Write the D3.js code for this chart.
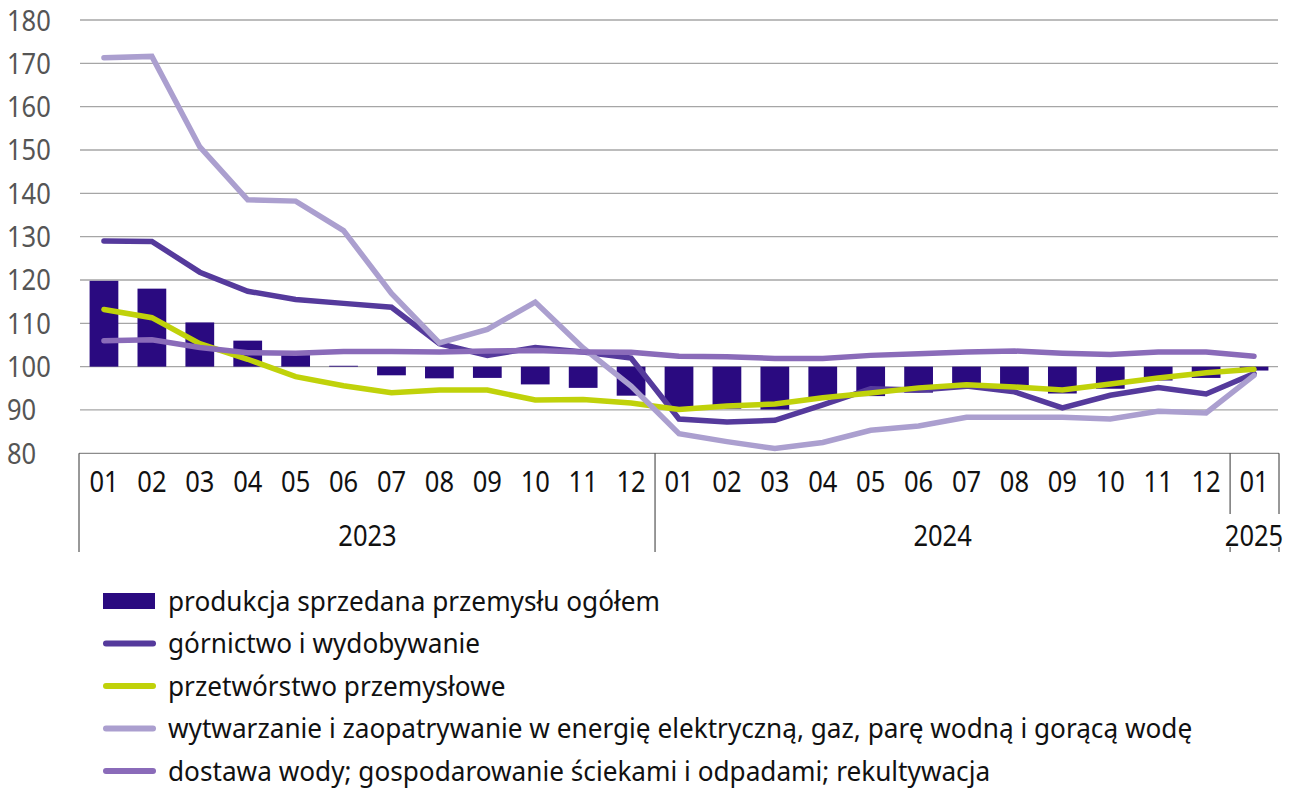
<!DOCTYPE html>
<html>
<head>
<meta charset="utf-8">
<script src="https://cdn.jsdelivr.net/npm/d3@7"></script>
<style>
  body { margin: 0; background: #fff; }
  svg { display: block; font-family: "Noto Sans", sans-serif; }
</style>
</head>
<body>
<script>
// months and years on the category axis
var months = ["01","02","03","04","05","06","07","08","09","10","11","12",
              "01","02","03","04","05","06","07","08","09","10","11","12","01"];
var years = [
  { label: "2023", from: 0, to: 12 },
  { label: "2024", from: 12, to: 24 },
  { label: "2025", from: 24, to: 25 }
];
var yTicks = [80, 90, 100, 110, 120, 130, 140, 150, 160, 170, 180];

// produkcja sprzedana przemysłu ogółem (bars, from 100)
var ogolem = [119.8, 118.0, 110.2, 106.0, 102.8, 100.2, 98.0, 97.3, 97.4, 95.9, 95.1, 93.3,
              90.2, 90.3, 90.1, 92.6, 93.2, 94.0, 96.0, 95.7, 93.8, 94.9, 96.8, 97.4, 99.1];
var gornictwo = [129.0, 128.9, 121.8, 117.4, 115.5, 114.6, 113.7, 105.3, 102.6, 104.4, 103.4, 102.0,
                 87.9, 87.2, 87.6, 91.2, 94.9, 94.6, 95.5, 94.2, 90.5, 93.4, 95.2, 93.7, 98.4];
var przetworstwo = [113.2, 111.3, 105.3, 101.7, 97.7, 95.6, 94.0, 94.6, 94.6, 92.3, 92.4, 91.6,
                    90.1, 90.9, 91.4, 92.8, 93.9, 95.1, 95.8, 95.3, 94.6, 96.0, 97.4, 98.6, 99.4];
var energia = [171.3, 171.6, 150.7, 138.5, 138.2, 131.4, 116.9, 105.5, 108.6, 114.9, 104.3, 95.5,
               84.5, 82.7, 81.1, 82.5, 85.3, 86.3, 88.3, 88.3, 88.3, 87.9, 89.7, 89.3, 98.0];
var dostawa = [106.0, 106.2, 104.4, 103.2, 103.1, 103.5, 103.5, 103.4, 103.6, 103.7, 103.4, 103.3,
               102.4, 102.3, 101.9, 101.9, 102.6, 103.0, 103.4, 103.6, 103.1, 102.8, 103.4, 103.4, 102.4];

var seriesNames = [
  "produkcja sprzedana przemysłu ogółem",
  "górnictwo i wydobywanie",
  "przetwórstwo przemysłowe",
  "wytwarzanie i zaopatrywanie w energię elektryczną, gaz, parę wodną i gorącą wodę",
  "dostawa wody; gospodarowanie ściekami i odpadami; rekultywacja"
];

var width = 1296, height = 789;
var plotLeft = 80, plotRight = 1278, plotTop = 20, plotBottom = 453.3;

var svg = d3.select("body").append("svg")
    .attr("width", width)
    .attr("height", height);

var x = d3.scaleBand()
    .domain(d3.range(months.length))
    .range([plotLeft, plotRight])
    .paddingInner(0.4)
    .paddingOuter(0.2);

var y = d3.scaleLinear()
    .domain([80, 180])
    .range([plotBottom, plotTop]);

var cx = function (i) { return x(i) + x.bandwidth() / 2; };
var step = x.step();

// narrow numerals (the original uses a condensed face)
function narrow(fx, fy) {
  return function (d, i) {
    return "translate(" + fx(d, i) + "," + fy(d, i) + ") scale(0.88,1)";
  };
}

// gridlines
svg.append("g")
    .selectAll("line")
    .data(yTicks.slice(1))
    .enter().append("line")
    .attr("x1", plotLeft).attr("x2", plotRight)
    .attr("y1", function (d) { return y(d); })
    .attr("y2", function (d) { return y(d); })
    .attr("stroke", "#a6a6a6")
    .attr("stroke-width", 1.3);

// y labels
svg.append("g")
    .selectAll("text")
    .data(yTicks)
    .enter().append("text")
    .attr("transform", narrow(function () { return 7; },
                              function (d) { return y(d) + 10.5; }))
    .attr("fill", "#555")
    .style("font-size", "29px")
    .text(function (d) { return d; });

// bars from 100
svg.append("g")
    .selectAll("rect")
    .data(ogolem)
    .enter().append("rect")
    .attr("x", function (d, i) { return x(i); })
    .attr("width", x.bandwidth())
    .attr("y", function (d) { return y(Math.max(d, 100)); })
    .attr("height", function (d) { return Math.abs(y(d) - y(100)); })
    .attr("fill", "#2a0a80");

// lines
var lines = [
  { values: gornictwo, color: "#553a9c" },
  { values: przetworstwo, color: "#c0d20a" },
  { values: energia, color: "#ab9fcf" },
  { values: dostawa, color: "#8a6bb9" }
];

var line = d3.line()
    .x(function (d, i) { return cx(i); })
    .y(function (d) { return y(d); });

svg.append("g")
    .selectAll("path")
    .data(lines)
    .enter().append("path")
    .attr("d", function (d) { return line(d.values); })
    .attr("fill", "none")
    .attr("stroke", function (d) { return d.color; })
    .attr("stroke-width", 5.5)
    .attr("stroke-linecap", "round")
    .attr("stroke-linejoin", "miter");

// category axis box
var axis = svg.append("g");
axis.append("line")
    .attr("x1", plotLeft - 1).attr("x2", plotRight + 1)
    .attr("y1", plotBottom).attr("y2", plotBottom)
    .attr("stroke", "#8c8c8c").attr("stroke-width", 1.3);

var sepFull = [plotLeft - 1, x(12) - step * 0.2];
sepFull.forEach(function (sx) {
  axis.append("line")
      .attr("x1", sx).attr("x2", sx)
      .attr("y1", plotBottom).attr("y2", 552)
      .attr("stroke", "#333").attr("stroke-width", 1);
});
var sepShort = [x(24) - step * 0.2, plotRight + 1];
sepShort.forEach(function (sx) {
  axis.append("line")
      .attr("x1", sx).attr("x2", sx)
      .attr("y1", plotBottom).attr("y2", 514)
      .attr("stroke", "#333").attr("stroke-width", 1);
  axis.append("line")
      .attr("x1", sx).attr("x2", sx)
      .attr("y1", 547).attr("y2", 552)
      .attr("stroke", "#333").attr("stroke-width", 1);
});

axis.selectAll("text.month")
    .data(months)
    .enter().append("text")
    .attr("class", "month")
    .attr("transform", narrow(function (d, i) { return cx(i); },
                              function () { return 492; }))
    .attr("text-anchor", "middle")
    .attr("fill", "#111")
    .style("font-size", "29px")
    .text(function (d) { return d; });

axis.selectAll("text.year")
    .data(years)
    .enter().append("text")
    .attr("class", "year")
    .attr("transform", narrow(function (d) {
      return (x(d.from) + x(d.to - 1) + x.bandwidth()) / 2;
    }, function () { return 546; }))
    .attr("text-anchor", "middle")
    .attr("fill", "#111")
    .style("font-size", "29px")
    .text(function (d) { return d.label; });

// legend
var legendColors = ["#2a0a80", "#553a9c", "#c0d20a", "#ab9fcf", "#8a6bb9"];
var legend = svg.append("g");
seriesNames.forEach(function (name, i) {
  var ly = 601 + i * 42.5;
  if (i === 0) {
    legend.append("rect")
        .attr("x", 103).attr("y", ly - 8)
        .attr("width", 52).attr("height", 16)
        .attr("fill", legendColors[i]);
  } else {
    legend.append("line")
        .attr("x1", 106).attr("x2", 153)
        .attr("y1", ly).attr("y2", ly)
        .attr("stroke", legendColors[i])
        .attr("stroke-width", 6)
        .attr("stroke-linecap", "round");
  }
  legend.append("text")
      .attr("transform", "translate(168," + (ly + 9.5) + ") scale(0.935,1)")
      .attr("fill", "#111")
      .style("font-size", "28px")
      .text(name);
});
</script>
</body>
</html>
